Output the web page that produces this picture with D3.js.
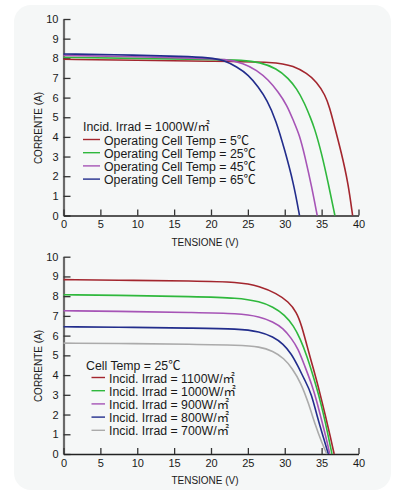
<!DOCTYPE html>
<html>
<head>
<meta charset="utf-8">
<script src="https://cdn.jsdelivr.net/npm/d3@7"></script>
<style>
  html, body { margin: 0; padding: 0; background: #ffffff; }
  svg { display: block; }
  text { font-family: "Liberation Sans", Arial, "Noto Sans CJK JP", sans-serif; fill: #1a1a1a; }
</style>
</head>
<body>
<svg id="chart" width="393" height="492"></svg>
<script>
// ---------- DATA ----------
const xTicks = [0, 5, 10, 15, 20, 25, 30, 35, 40];
const yTicks = [0, 1, 2, 3, 4, 5, 6, 7, 8, 9, 10];
const xTitle = "TENSIONE (V)";
const yTitle = "CORRENTE (A)";

// Top chart: irradiance 1000 W/m², varying cell temperature  [V, I]
const topTitle = "Incid. Irrad = 1000W/㎡";
const topLabels = ["Operating Cell Temp = 5℃", "Operating Cell Temp = 25℃", "Operating Cell Temp = 45℃", "Operating Cell Temp = 65℃"];
const temp5 = [[0,7.95],[10,7.9],[19.9,7.85],[28.9,7.82],[31.2,7.6],[33.0,7.24],[34.3,6.81],[35.5,6.13],[36.1,5.46],[36.6,4.75],[37.7,3.17],[38.6,1.64],[39.2,0]];
const temp25 = [[0,8.05],[10,8.0],[20,7.94],[24.4,7.91],[26.6,7.8],[28.9,7.49],[30.5,6.98],[31.6,6.47],[32.7,5.71],[33.4,5.05],[34.0,4.5],[35.0,3.17],[35.9,1.64],[36.8,0]];
const temp45 = [[0,8.15],[10,8.08],[18,8.0],[22.1,7.96],[24.4,7.75],[26.2,7.4],[27.8,6.9],[29.1,6.3],[30.3,5.62],[31.2,4.8],[32.0,4.1],[32.75,2.99],[33.65,1.47],[34.4,0]];
const temp65 = [[0,8.22],[10,8.16],[16,8.1],[19.9,8.03],[21.7,7.91],[23.5,7.57],[25.1,7.15],[26.4,6.55],[27.6,5.88],[28.8,4.86],[30.0,3.33],[31.2,1.64],[32.0,0]];

// Bottom chart: cell temp 25 °C, varying irradiance  [V, I]
const bottomTitle = "Cell Temp = 25℃";
const bottomLabels = ["Incid. Irrad = 1100W/㎡", "Incid. Irrad = 1000W/㎡", "Incid. Irrad = 900W/㎡", "Incid. Irrad = 800W/㎡", "Incid. Irrad = 700W/㎡"];
const irr1100 = [[0,8.84],[10,8.8],[17,8.77],[23.9,8.72],[26.6,8.5],[28.9,8.14],[30.5,7.72],[31.6,7.2],[32.3,6.5],[33.0,5.5],[33.9,4.3],[34.7,3.2],[35.6,1.8],[36.2,0.85],[36.7,0]];
const irr1000 = [[0,8.07],[10,8.03],[17,7.98],[23.9,7.92],[26.6,7.72],[28.4,7.47],[30.0,7.05],[31.2,6.5],[32.1,5.85],[33.0,4.98],[33.9,3.9],[34.6,3.0],[35.2,2.1],[35.8,1.1],[36.4,0]];
const irr900 = [[0,7.26],[10,7.22],[17,7.17],[23.9,7.13],[26.6,6.96],[28.4,6.71],[29.8,6.37],[30.9,5.86],[31.8,5.35],[32.7,4.47],[33.7,3.5],[34.4,2.6],[35.0,1.7],[35.6,0.85],[36.1,0]];
const irr800 = [[0,6.45],[10,6.42],[17,6.38],[23.9,6.35],[26.6,6.2],[28.4,5.95],[29.8,5.58],[30.9,5.08],[31.8,4.45],[32.7,3.75],[33.6,3.1],[34.5,1.75],[35.2,0.9],[35.9,0]];
const irr700 = [[0,5.62],[10,5.6],[17,5.56],[23.9,5.52],[26.6,5.44],[28.4,5.22],[29.9,4.85],[31.0,4.35],[32.2,3.6],[33.2,2.6],[34.2,1.4],[35.0,0.6],[35.7,0]];

const topColors = ["#a3262e", "#2fb83d", "#a654b6", "#222d8c"];
const bottomColors = ["#a3262e", "#2fb83d", "#a654b6", "#222d8c", "#ababab"];

// ---------- DRAW ----------
const svg = d3.select("#chart");

svg.append("rect")
  .attr("x", 14).attr("y", 5).attr("width", 377).attr("height", 485)
  .attr("rx", 17).attr("fill", "#f5f7f7");

function panel(cfg) {
  const x = d3.scaleLinear().domain([0, 40]).range([63.5, 358.5]);
  const y = d3.scaleLinear().domain([0, 10]).range([cfg.y0, cfg.y10]);
  const g = svg.append("g");

  const yAxis = d3.axisLeft(y).tickValues(yTicks).tickSize(-7).tickSizeOuter(0).tickPadding(5);
  const gy = g.append("g").attr("transform", `translate(${x(0)},0)`).call(yAxis);
  gy.select(".domain").attr("stroke", "#6a6a6a").attr("stroke-width", 2.2);
  gy.selectAll(".tick line").attr("stroke", "#333").attr("stroke-width", 1.3);
  gy.selectAll(".tick text").attr("font-size", 11).attr("fill", "#1a1a1a")
    .style("font-family", '"Liberation Sans", Arial, sans-serif');

  const xAxis = d3.axisBottom(x).tickValues(xTicks).tickSize(-6).tickSizeOuter(0).tickPadding(5);
  const gx = g.append("g").attr("transform", `translate(0,${y(0)})`).call(xAxis);
  gx.select(".domain").attr("stroke", "#222").attr("stroke-width", 1.6);
  gx.selectAll(".tick line").attr("stroke", "#333").attr("stroke-width", 1.3);
  gx.selectAll(".tick text").attr("font-size", 11).attr("fill", "#1a1a1a")
    .style("font-family", '"Liberation Sans", Arial, sans-serif');

  g.append("text").attr("x", 205).attr("y", y(0) + cfg.xTitleDy)
    .attr("text-anchor", "middle").attr("font-size", 10).text(xTitle);
  g.append("text").attr("transform", `translate(42,${cfg.yTitleCy}) rotate(-90)`)
    .attr("text-anchor", "middle").attr("font-size", 10).text(yTitle);

  const line = d3.line().x(d => x(d[0])).y(d => y(d[1])).curve(d3.curveBasis);
  cfg.series.forEach((s, i) => {
    g.append("path").datum(s).attr("d", line)
      .attr("fill", "none").attr("stroke", cfg.colors[i]).attr("stroke-width", 1.6);
  });

  // legend
  const L = cfg.legend;
  g.append("text").attr("x", L.x).attr("y", L.titleY).attr("font-size", 12.3).text(L.title);
  cfg.labels.forEach((lab, i) => {
    const cy = L.rowY + i * L.step;
    g.append("line").attr("x1", L.lx1).attr("x2", L.lx2).attr("y1", cy).attr("y2", cy)
      .attr("stroke", cfg.colors[i]).attr("stroke-width", 1.4);
    g.append("text").attr("x", L.tx).attr("y", cy + 5).attr("font-size", 12.3).text(lab);
  });
}

panel({
  y0: 215.5, y10: 19, xTitleDy: 30, yTitleCy: 128,
  series: [temp5, temp25, temp45, temp65], colors: topColors, labels: topLabels,
  legend: { title: topTitle, x: 83, titleY: 131, rowY: 139.5, step: 13.2, lx1: 83, lx2: 100, tx: 104 }
});

panel({
  y0: 454, y10: 256.7, xTitleDy: 30, yTitleCy: 366,
  series: [irr1100, irr1000, irr900, irr800, irr700], colors: bottomColors, labels: bottomLabels,
  legend: { title: bottomTitle, x: 86, titleY: 370, rowY: 377.5, step: 13.2, lx1: 91.5, lx2: 105, tx: 109 }
});
</script>
</body>
</html>
